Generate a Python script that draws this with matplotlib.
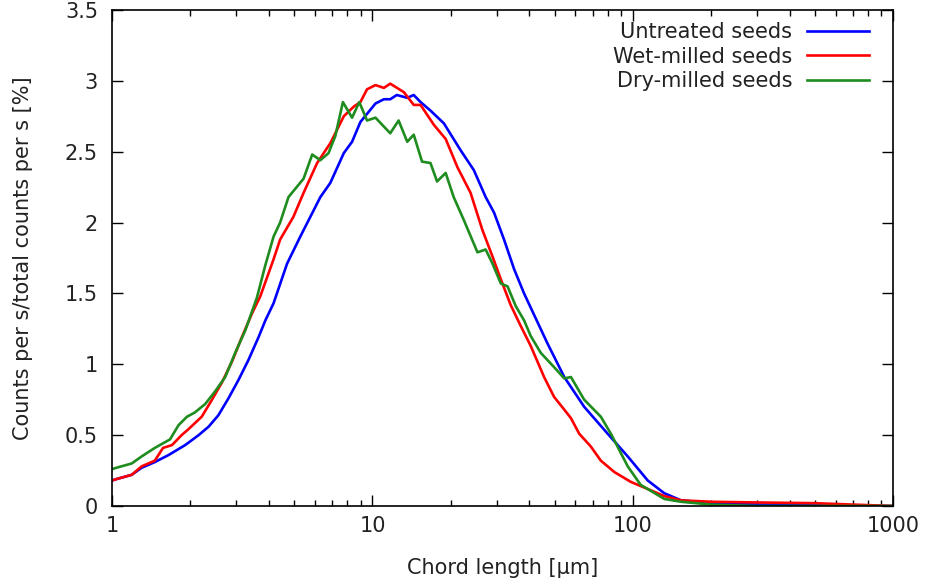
import matplotlib
matplotlib.use("Agg")
import matplotlib.pyplot as plt
from matplotlib.ticker import FuncFormatter, LogLocator, MultipleLocator, NullFormatter

# Untreated seeds
x_untreated = [1.0, 1.04, 1.19, 1.30, 1.46, 1.65, 1.91, 2.15, 2.35, 2.56, 2.80, 3.06, 3.34, 3.65,
               3.88, 4.17, 4.70, 5.28, 6.31, 6.89, 7.76, 8.35, 8.99, 10.27, 11.06, 11.7, 12.4, 13.6,
               14.4, 15.3, 16.7, 18.8, 21.8, 24.5, 27.2, 29.3, 32.0, 35.0, 38.2, 40.5, 46.9, 54.5,
               65.0, 80.0, 95.5, 114, 132, 153, 200, 300, 500, 1000]
y_untreated = [0.18, 0.19, 0.22, 0.27, 0.31, 0.36, 0.43, 0.50, 0.56, 0.64, 0.76, 0.89, 1.03, 1.19,
               1.31, 1.43, 1.71, 1.90, 2.18, 2.28, 2.49, 2.57, 2.71, 2.84, 2.87, 2.87, 2.90, 2.88,
               2.90, 2.85, 2.79, 2.70, 2.51, 2.37, 2.18, 2.07, 1.88, 1.67, 1.50, 1.40, 1.15, 0.91,
               0.70, 0.51, 0.35, 0.18, 0.09, 0.04, 0.02, 0.01, 0.005, 0.0]

# Wet-milled seeds
x_wet = [1.0, 1.04, 1.19, 1.30, 1.46, 1.57, 1.70, 1.85, 1.96, 2.21, 2.42, 2.64, 2.89, 3.15, 3.45,
         3.71, 4.17, 4.42, 4.97, 5.44, 6.13, 6.89, 7.76, 8.5, 8.99, 9.53, 10.27, 11.06, 11.7, 13.2,
         14.4, 15.3, 17.2, 19.1, 21.2, 23.8, 26.4, 28.9, 31.1, 33.9, 37.1, 40.5, 45.6, 49.8, 54.5,
         57.8, 62.2, 68.9, 75.3, 84.8, 98.2, 114, 132, 153, 200, 300, 500, 700, 1000]
y_wet = [0.18, 0.19, 0.22, 0.28, 0.32, 0.41, 0.43, 0.50, 0.54, 0.63, 0.75, 0.87, 1.02, 1.19, 1.36,
         1.48, 1.74, 1.88, 2.04, 2.21, 2.42, 2.56, 2.75, 2.82, 2.85, 2.94, 2.97, 2.95, 2.98, 2.92,
         2.83, 2.83, 2.69, 2.59, 2.39, 2.21, 1.95, 1.76, 1.60, 1.42, 1.27, 1.13, 0.91, 0.77, 0.68,
         0.62, 0.51, 0.42, 0.32, 0.24, 0.17, 0.12, 0.07, 0.04, 0.03, 0.025, 0.02, 0.01, 0.0]

# Dry-milled seeds
x_dry = [1.0, 1.04, 1.19, 1.30, 1.46, 1.67, 1.80, 1.94, 2.08, 2.28, 2.49, 2.72, 2.97, 3.25, 3.60,
         3.88, 4.17, 4.42, 4.76, 5.44, 5.87, 6.31, 6.78, 7.2, 7.7, 8.35, 8.9, 9.53, 10.27, 11.7,
         12.6, 13.6, 14.4, 15.5, 16.7, 17.7, 19.1, 20.5, 22.4, 25.3, 27.2, 28.9, 31.1, 33.0, 35.5,
         38.2, 40.5, 44.3, 49.8, 54.5, 57.8, 65.0, 75.3, 82.3, 95.5, 107, 132, 153, 200, 300, 1000]
y_dry = [0.26, 0.27, 0.30, 0.35, 0.41, 0.47, 0.57, 0.63, 0.66, 0.72, 0.81, 0.91, 1.08, 1.24, 1.47,
         1.70, 1.90, 2.00, 2.18, 2.31, 2.48, 2.44, 2.49, 2.61, 2.85, 2.74, 2.85, 2.72, 2.74, 2.63,
         2.72, 2.57, 2.62, 2.43, 2.42, 2.29, 2.35, 2.18, 2.02, 1.79, 1.81, 1.71, 1.57, 1.55, 1.41,
         1.31, 1.20, 1.08, 0.98, 0.90, 0.91, 0.75, 0.63, 0.51, 0.28, 0.15, 0.05, 0.03, 0.01, 0.0, 0.0]

tekstin_vari = "#222222"
koko = 15

fig = plt.figure(figsize=(9.28, 5.86), dpi=100)
ax = fig.add_axes([0.1207, 0.1365, 0.842, 0.8465])

ax.plot(x_untreated, y_untreated, color="#0000ff", lw=1.9, label="Untreated seeds")
ax.plot(x_wet, y_wet, color="#ff0000", lw=1.9, label="Wet-milled seeds")
ax.plot(x_dry, y_dry, color="#1e8c1e", lw=1.9, label="Dry-milled seeds")

ax.set_xscale("log")
ax.set_xlim(1, 1000)
ax.set_ylim(0, 3.5)

ax.xaxis.set_major_locator(LogLocator(base=10))
ax.xaxis.set_minor_locator(LogLocator(base=10, subs=range(2, 10)))
ax.xaxis.set_minor_formatter(NullFormatter())
ax.xaxis.set_major_formatter(FuncFormatter(lambda v, p: "%g" % v))
ax.yaxis.set_major_locator(MultipleLocator(0.5))
ax.yaxis.set_major_formatter(FuncFormatter(lambda v, p: "%g" % v))

ax.tick_params(which="both", direction="in", top=True, right=True, colors="black",
               labelcolor=tekstin_vari, labelsize=koko, width=1)
ax.tick_params(axis="x", which="major", length=8, pad=7)
ax.tick_params(axis="y", which="major", length=8, pad=10)
ax.tick_params(which="minor", length=4.5)
for s in ax.spines.values():
    s.set_linewidth(1.2)

ax.set_xlabel("Chord length [µm]", fontsize=koko, color=tekstin_vari, labelpad=16)
ax.set_ylabel("Counts per s/total counts per s [%]", fontsize=koko, color=tekstin_vari, labelpad=23)

leg = ax.legend(loc="upper right", bbox_to_anchor=(0.985, 1.0), frameon=False,
                markerfirst=False, fontsize=koko, handlelength=3.0, handletextpad=0.7,
                labelspacing=0.2, borderaxespad=0.2)
for t in leg.get_texts():
    t.set_color(tekstin_vari)

fig.savefig("out.png", dpi=100)
